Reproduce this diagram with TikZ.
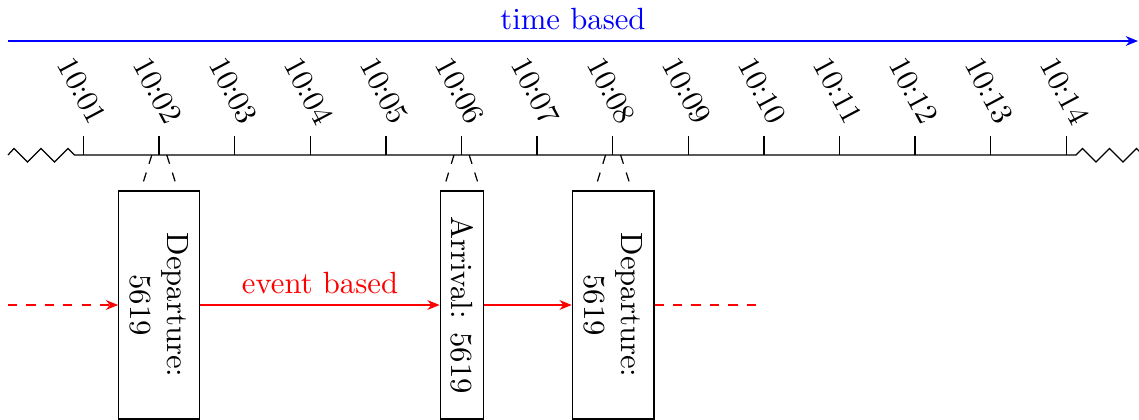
\documentclass[tikz,border=0pt]{standalone}
\usetikzlibrary{arrows.meta}
\tikzset{
  evbox/.style={draw, rotate=-90, align=center, minimum width=74.3pt, inner sep=3.33pt},
  ticklabel/.style={rotate=-62, inner sep=0pt},
  callout/.style={dashed},
  evarrow/.style={red, -{Stealth[length=4pt,width=3.2pt]}},
}
\begin{document}
\begin{tikzpicture}[x=0.3257pt,y=-0.3257pt]
\useasboundingbox (0,0) rectangle (1139,419);
\clip (0,0) rectangle (1139,419);

% time based arrow
\coordinate (bs) at (8,41);
\coordinate (be) at (1138,41);
\draw[blue, -{Stealth[length=4pt,width=3.2pt]}] (bs) -- node[above, text=blue] (tb) {time based} (be);

% timeline with zigzag ends
\draw (8,155) -- (14,148.5) -- (27.5,162) -- (41,148.5) -- (54.5,162) -- (68,148.5) -- (74.5,155)
  -- (1076,155) -- (1082.5,148.5) -- (1096,162) -- (1109.5,148.5) -- (1123,162) -- (1136.5,148.5) -- (1140,152);

% ticks and labels
\foreach \i in {1,...,14}{
  \pgfmathsetmacro{\xx}{83.5+75.6*(\i-1)}
  \coordinate (t\i) at (\xx,155);
  \coordinate (tt\i) at (\xx,136);
  \draw (tt\i) -- (t\i);
  \ifnum\i<10
    \node[ticklabel] (l\i) at (\xx-1.5,91) {10:0\i};
  \else
    \node[ticklabel] (l\i) at (\xx-1.5,91) {10:\i};
  \fi
}

% event boxes
\node[evbox, minimum height=26.4pt] (d1) at (159.3,305) {Departure:\\5619};
\node[evbox, minimum height=14pt] (a1) at (461.8,305) {Arrival: 5619};
\node[evbox, minimum height=26.6pt] (d2) at (613.2,305) {Departure:\\5619};

% callout dashed lines
\coordinate (c1a) at (151.8,155); \coordinate (c1b) at (140.3,191.5);
\coordinate (c1c) at (166.8,155); \coordinate (c1d) at (178.3,191.5);
\coordinate (c2a) at (454,155);   \coordinate (c2b) at (442.8,191.5);
\coordinate (c2c) at (469.2,155); \coordinate (c2d) at (480.7,191.5);
\coordinate (c3a) at (605.6,155); \coordinate (c3b) at (594.3,191.5);
\coordinate (c3c) at (620.6,155); \coordinate (c3d) at (632.3,191.5);
\draw[callout] (c1a) -- (c1b); \draw[callout] (c1c) -- (c1d);
\draw[callout] (c2a) -- (c2b); \draw[callout] (c2c) -- (c2d);
\draw[callout] (c3a) -- (c3b); \draw[callout] (c3c) -- (c3d);

% event based arrows
\coordinate (es) at (8,305);
\coordinate (ee) at (760,305);
\draw[evarrow, dashed] (es) -- (d1);
\draw[evarrow] (d1) -- node[above, text=red] (eb) {event based} (a1);
\draw[evarrow] (a1) -- (d2);
\draw[red, dashed] (d2) -- (ee);
\end{tikzpicture}
\end{document}
